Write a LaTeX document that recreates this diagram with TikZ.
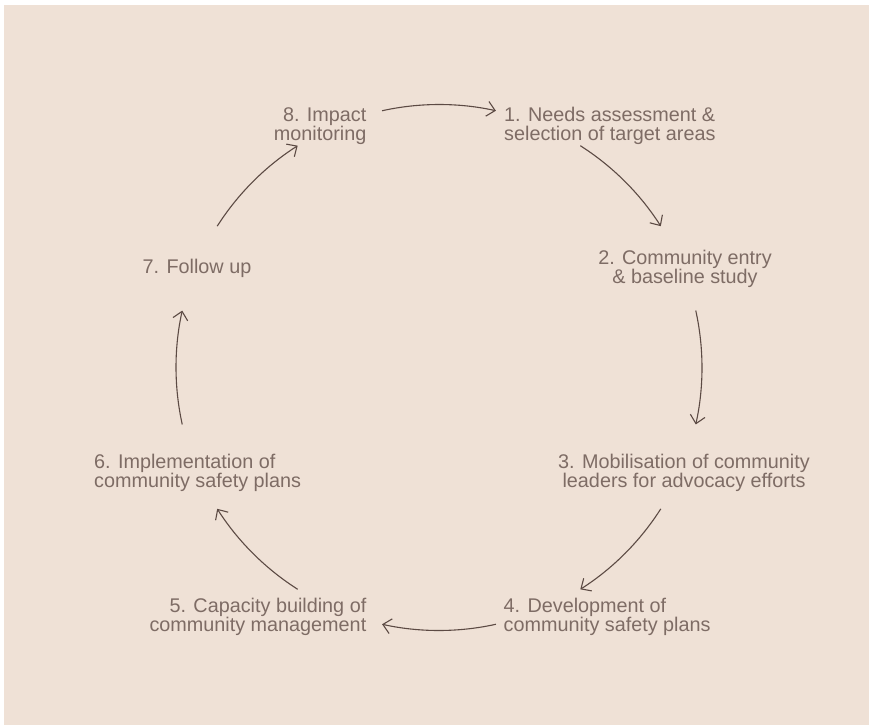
\documentclass[tikz,border=0pt]{standalone}
\usepackage{fontspec}
\setmainfont{Liberation Sans}
\usetikzlibrary{arrows.meta}
\definecolor{bgc}{RGB}{239,225,214}
\definecolor{txtc}{RGB}{126,108,101}
\definecolor{linec}{RGB}{92,74,68}
\newcommand\lblfont{\fontsize{19.8}{18.6}\selectfont\lineskiplimit=-30pt\relax\lineskip=0pt\relax}
\begin{document}
\begin{tikzpicture}[x=1pt,y=-1pt,
  lbl/.style={inner sep=0pt, text=txtc, font=\lblfont},
  cyc/.style={draw=linec, line width=1.1pt, looseness=0.86,
    -{Straight Barb[length=8pt,width=15pt,line width=1.1pt]}}]
\useasboundingbox (0,0) rectangle (869,725);
\fill[bgc] (4,5) rectangle (869,725);
% labels (base anchor = baseline of last line)
\node[lbl, align=right, anchor=base east] (n8) at (366.5,140.5) {8. Impact\\monitoring};
\node[lbl, align=left, anchor=base west] (n1) at (504,140.5) {1. Needs assessment \&\\selection of target areas};
\node[lbl, align=center, anchor=base] (n2) at (685,283) {2. Community entry\\\& baseline study};
\node[lbl, align=center, anchor=base] (n3) at (684,487.5) {3. Mobilisation of community\\leaders for advocacy efforts};
\node[lbl, align=left, anchor=base west] (n4) at (503.5,631) {4. Development of\\community safety plans};
\node[lbl, align=right, anchor=base east] (n5) at (366.5,631) {5. Capacity building of\\community management};
\node[lbl, align=left, anchor=base west] (n6) at (94,487.5) {6. Implementation of\\community safety plans};
\node[lbl, anchor=base] (n7) at (197,273.5) {7. Follow up};
% cycle of arrows on a circle round (c)
\coordinate (c) at (439,367.5);
\path (c) ++(-102.5:263) coordinate (s81) (c) ++(-77.5:263) coordinate (e81);
\path (c) ++(-57.5:263) coordinate (s12) (c) ++(-32.5:263) coordinate (e12);
\path (c) ++(-12.5:263) coordinate (s23) (c) ++(12.5:263) coordinate (e23);
\path (c) ++(32.5:263) coordinate (s34) (c) ++(57.5:263) coordinate (e34);
\path (c) ++(77.5:263) coordinate (s45) (c) ++(102.5:263) coordinate (e45);
\path (c) ++(122.5:263) coordinate (s56) (c) ++(147.5:263) coordinate (e56);
\path (c) ++(167.5:263) coordinate (s67) (c) ++(192.5:263) coordinate (e67);
\path (c) ++(212.5:263) coordinate (s78) (c) ++(237.5:263) coordinate (e78);
\draw[cyc] (s81) to[bend left=12.5] (e81);
\draw[cyc] (s12) to[bend left=12.5] (e12);
\draw[cyc] (s23) to[bend left=12.5] (e23);
\draw[cyc] (s34) to[bend left=12.5] (e34);
\draw[cyc] (s45) to[bend left=12.5] (e45);
\draw[cyc] (s56) to[bend left=12.5] (e56);
\draw[cyc] (s67) to[bend left=12.5] (e67);
\draw[cyc] (s78) to[bend left=12.5] (e78);
\end{tikzpicture}
\end{document}
